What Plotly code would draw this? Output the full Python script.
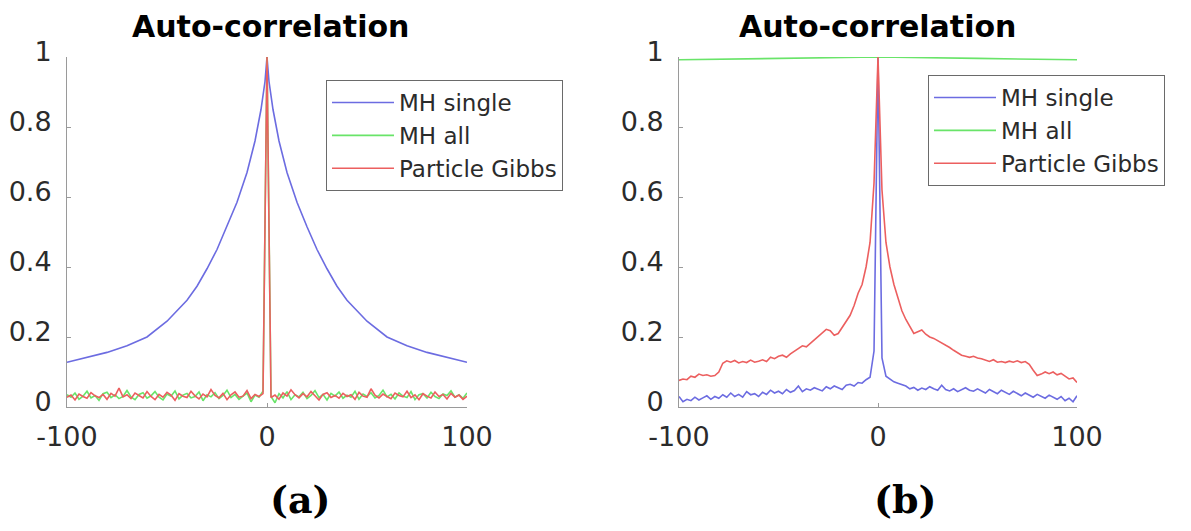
import plotly.graph_objects as go

# ---------------- data ----------------
lags_step2 = list(range(-100, 101, 2))

# (a) MH single - smooth curve
a_blue_lags = [-100, -90, -80, -70, -60, -50, -40, -35, -30, -25, -20, -15, -10, -6, -3, -1, 0,
               1, 3, 6, 10, 15, 20, 25, 30, 35, 40, 50, 60, 70, 80, 90, 100]
a_blue = [0.128, 0.142, 0.156, 0.175, 0.200, 0.245, 0.305, 0.345, 0.395, 0.450, 0.515, 0.585, 0.670,
          0.760, 0.850, 0.930, 1.0,
          0.930, 0.850, 0.760, 0.670, 0.585, 0.515, 0.450, 0.395, 0.345, 0.305, 0.245, 0.200, 0.175,
          0.156, 0.142, 0.128]

# (a) MH all
a_green = [0.035, 0.028, 0.040, 0.022, 0.031, 0.045, 0.026, 0.033, 0.019, 0.038,
           0.042, 0.027, 0.035, 0.024, 0.030, 0.047, 0.029, 0.021, 0.036, 0.041,
           0.025, 0.032, 0.044, 0.028, 0.020, 0.037, 0.031, 0.046, 0.023, 0.034,
           0.039, 0.026, 0.030, 0.043, 0.018, 0.035, 0.029, 0.041, 0.024, 0.033,
           0.048, 0.027, 0.036, 0.022, 0.031, 0.040, 0.015, 0.034, 0.028, 0.045,
           1.0,
           0.030, 0.012, 0.038, 0.026, 0.044, 0.021, 0.035, 0.029, 0.042, 0.024,
           0.033, 0.047, 0.027, 0.036, 0.020, 0.039, 0.031, 0.043, 0.025, 0.034,
           0.028, 0.045, 0.022, 0.037, 0.030, 0.041, 0.026, 0.033, 0.048, 0.029,
           0.036, 0.023, 0.040, 0.031, 0.027, 0.044, 0.021, 0.035, 0.038, 0.026,
           0.042, 0.030, 0.024, 0.037, 0.033, 0.046, 0.028, 0.035, 0.025, 0.040]

# (a) Particle Gibbs
a_red = [0.028, 0.034, 0.020, 0.037, 0.030, 0.025, 0.041, 0.032, 0.027, 0.036,
         0.022, 0.039, 0.031, 0.054, 0.029, 0.035, 0.024, 0.040, 0.033, 0.026,
         0.044, 0.030, 0.021, 0.036, 0.028, 0.042, 0.034, 0.019, 0.038, 0.031,
         0.027, 0.045, 0.032, 0.023, 0.037, 0.029, 0.050, 0.033, 0.026, 0.039,
         0.021, 0.035, 0.043, 0.028, 0.031, 0.047, 0.024, 0.036, 0.030, 0.038,
         1.0,
         0.027, 0.034, 0.022, 0.040, 0.031, 0.049, 0.035, 0.026, 0.038, 0.029,
         0.044, 0.032, 0.020, 0.036, 0.041, 0.027, 0.033, 0.025, 0.039, 0.030,
         0.035, 0.022, 0.042, 0.031, 0.028, 0.052, 0.034, 0.026, 0.037, 0.030,
         0.024, 0.040, 0.033, 0.029, 0.045, 0.027, 0.035, 0.021, 0.038, 0.031,
         0.026, 0.043, 0.030, 0.036, 0.023, 0.039, 0.028, 0.034, 0.022, 0.031]

# (b) MH single
b_blue = [0.030, 0.015, 0.022, 0.018, 0.028, 0.020, 0.026, 0.032, 0.022, 0.030,
          0.025, 0.035, 0.028, 0.040, 0.030, 0.036, 0.028, 0.044, 0.035, 0.038,
          0.030, 0.042, 0.036, 0.048, 0.040,
          0.045, 0.038, 0.050, 0.042, 0.047, 0.060, 0.044, 0.052, 0.048, 0.055,
          0.050, 0.046, 0.058, 0.052, 0.060, 0.055, 0.050, 0.062, 0.065, 0.060,
          0.070, 0.068, 0.078, 0.085,
          0.160, 1.0, 0.140,
          0.088, 0.080, 0.072, 0.068, 0.065, 0.060, 0.052, 0.056, 0.048, 0.054,
          0.050, 0.058, 0.052, 0.048, 0.062, 0.050, 0.046, 0.052, 0.044, 0.050,
          0.055, 0.048, 0.045, 0.052,
          0.046, 0.040, 0.050, 0.044, 0.038, 0.048, 0.042, 0.036, 0.045, 0.038,
          0.032, 0.040, 0.035, 0.028, 0.036, 0.030, 0.025, 0.034, 0.028, 0.022,
          0.030, 0.018, 0.025, 0.015, 0.032]

# (b) MH all
b_green_lags = [-100, -50, 0, 50, 100]
b_green = [0.992, 0.996, 1.0, 0.996, 0.992]

# (b) Particle Gibbs
b_red = [0.076, 0.080, 0.078, 0.088, 0.085, 0.094, 0.090, 0.092, 0.088, 0.090,
         0.100, 0.125, 0.132, 0.128, 0.133, 0.126, 0.130, 0.127, 0.134, 0.128,
         0.131, 0.135, 0.130, 0.142, 0.138, 0.145, 0.148, 0.142, 0.152, 0.160,
         0.168, 0.175, 0.172, 0.182, 0.190, 0.200, 0.212, 0.222, 0.218, 0.205,
         0.210, 0.228, 0.245, 0.262, 0.290, 0.325, 0.350, 0.400, 0.470, 0.640,
         1.0,
         0.620, 0.470, 0.400, 0.350, 0.310, 0.275, 0.250, 0.232, 0.210, 0.215,
         0.220, 0.208, 0.200, 0.196, 0.190, 0.182, 0.178, 0.170, 0.162, 0.155,
         0.148, 0.145, 0.142, 0.145, 0.140, 0.138, 0.134, 0.130, 0.135, 0.128,
         0.130, 0.127, 0.131, 0.128, 0.132, 0.127, 0.130, 0.122, 0.105, 0.090,
         0.094, 0.100, 0.095, 0.100, 0.092, 0.096, 0.088, 0.080, 0.083, 0.070]

series_names = ["MH single", "MH all", "Particle Gibbs"]
y_ticks = [0, 0.2, 0.4, 0.6, 0.8, 1]
y_ticktext = ["0", "0.2", "0.4", "0.6", "0.8", "1"]
x_ticks = [-100, 0, 100]
x_ticktext = ["-100", "0", "100"]
panel_title = "Auto-correlation"
panel_labels = ["(a)", "(b)"]

# ---------------- style ----------------
BLUE = "rgb(108,108,225)"
GREEN = "rgb(105,228,105)"
RED = "rgb(236,95,95)"
W, H = 1191, 531
FONT = "DejaVu Sans"
LW = 1.6

fig = go.Figure()

def add(x, y, name, color, xa, ya, legend):
    fig.add_trace(go.Scatter(x=x, y=y, mode="lines", name=name,
                             line=dict(color=color, width=LW),
                             xaxis=xa, yaxis=ya, legend=legend))

add(a_blue_lags, a_blue, series_names[0], BLUE, "x", "y", "legend")
add(lags_step2, a_green, series_names[1], GREEN, "x", "y", "legend")
add(lags_step2, a_red, series_names[2], RED, "x", "y", "legend")
add(lags_step2, b_blue, series_names[0], BLUE, "x2", "y2", "legend2")
add(b_green_lags, b_green, series_names[1], GREEN, "x2", "y2", "legend2")
add(lags_step2, b_red, series_names[2], RED, "x2", "y2", "legend2")

def px_x(p):
    return p / W

def px_y(p):
    return (H - p) / H

y_dom = [px_y(407), px_y(57)]
axis_common = dict(showline=True, linecolor="#9a9a9a", linewidth=1, showgrid=False,
                   zeroline=False, ticks="inside", ticklen=4, tickcolor="#9a9a9a",
                   automargin=False,
                   tickfont=dict(family=FONT, size=27, color="#2b2b2b"))

xa = dict(axis_common, range=[-100, 100], tickvals=x_ticks, ticktext=x_ticktext,
          ticklabelstandoff=6)
ya = dict(axis_common, range=[0, 1], tickvals=y_ticks, ticktext=y_ticktext,
          ticklabelstandoff=9, ticklabelshift=-5, domain=y_dom)

legend_common = dict(xanchor="left", yanchor="top", bgcolor="white",
                     bordercolor="#6a6a6a", borderwidth=1,
                     font=dict(family=FONT, size=23, color="#2b2b2b"),
                     itemwidth=62, tracegroupgap=0)

fig.update_layout(
    width=W, height=H, margin=dict(l=0, r=0, t=0, b=0, autoexpand=False),
    paper_bgcolor="white", plot_bgcolor="white",
    xaxis=dict(xa, domain=[px_x(67), px_x(467)], anchor="y"),
    yaxis=dict(ya, anchor="x"),
    xaxis2=dict(xa, domain=[px_x(679), px_x(1077)], anchor="y2"),
    yaxis2=dict(ya, anchor="x2"),
    legend=dict(legend_common, x=px_x(326), y=px_y(80)),
    legend2=dict(legend_common, x=px_x(928), y=px_y(75)),
    showlegend=True,
)

annots = [
    dict(text="<b>%s</b>" % panel_title, x=px_x(270), y=px_y(27)),
    dict(text="<b>%s</b>" % panel_title, x=px_x(877), y=px_y(27)),
]
for a in annots:
    fig.add_annotation(xref="paper", yref="paper", xanchor="center", yanchor="middle",
                       showarrow=False, font=dict(family=FONT, size=30, color="black"), **a)

for lab, cx in zip(panel_labels, [300, 906]):
    fig.add_annotation(text="<b>%s</b>" % lab, xref="paper", yref="paper",
                       x=px_x(cx), y=px_y(499), xanchor="center", yanchor="middle",
                       showarrow=False,
                       font=dict(family="DejaVu Serif", size=38, color="black"))

fig.write_html("out.html")
